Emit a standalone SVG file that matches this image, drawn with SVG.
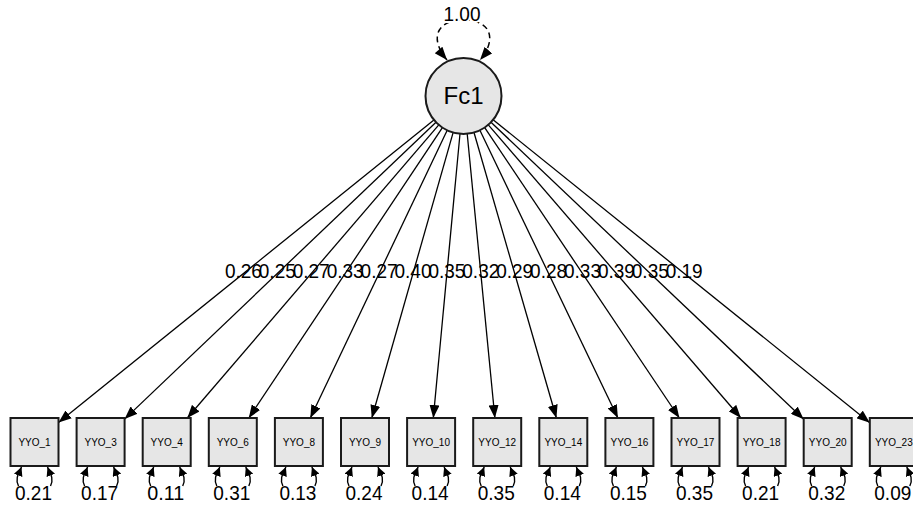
<svg xmlns="http://www.w3.org/2000/svg" width="913" height="507" viewBox="0 0 913 507">
<style>
text{font-family:"Liberation Sans",Arial,sans-serif;fill:#000}
.box{fill:#e6e6e6;stroke:#1a1a1a;stroke-width:2}
.blab{font-size:10px;text-anchor:middle}
.lab{font-size:21px;text-anchor:middle}
.edge{stroke:#000;stroke-width:1.3;fill:none;marker-end:url(#ah)}
.res{stroke:#000;stroke-width:1.4;fill:none;marker-end:url(#sh)}
.loop{stroke:#000;stroke-width:1.5;fill:none;stroke-dasharray:6 4;marker-end:url(#ah);marker-start:url(#ahs)}
</style>
<defs>
<marker id="ah" markerUnits="userSpaceOnUse" markerWidth="14" markerHeight="10" refX="13" refY="5" orient="auto"><path d="M0,0 L13,5 L0,10 Z" fill="#000"/></marker>
<marker id="ahs" markerUnits="userSpaceOnUse" markerWidth="14" markerHeight="10" refX="0" refY="5" orient="auto"><path d="M13,0 L0,5 L13,10 Z" fill="#000"/></marker>
<marker id="sh" markerUnits="userSpaceOnUse" markerWidth="10" markerHeight="9" refX="9" refY="4.5" orient="auto"><path d="M0,0 L9,4.5 L0,9 Z" fill="#000"/></marker>
</defs>
<rect width="913" height="507" fill="#fff"/>
<g id="connectors">
<path class="loop" d="M447 60 C 430 40, 435 20, 463.5 20 C 492 20, 497 40, 480 60"/>
<line class="edge" x1="433.9" y1="119.9" x2="58.5" y2="422.6"/>
<line class="edge" x1="436.0" y1="122.2" x2="124.6" y2="419.1"/>
<line class="edge" x1="438.8" y1="124.8" x2="187.3" y2="418"/>
<line class="edge" x1="442.4" y1="127.6" x2="248.8" y2="418"/>
<line class="edge" x1="447.2" y1="130.3" x2="310.3" y2="418"/>
<line class="edge" x1="453.1" y1="132.6" x2="371.8" y2="418"/>
<line class="edge" x1="460.0" y1="133.8" x2="433.3" y2="418"/>
<line class="edge" x1="467.2" y1="133.8" x2="494.9" y2="418"/>
<line class="edge" x1="474.0" y1="132.5" x2="556.4" y2="418"/>
<line class="edge" x1="479.9" y1="130.3" x2="617.9" y2="418"/>
<line class="edge" x1="484.7" y1="127.6" x2="679.4" y2="418"/>
<line class="edge" x1="488.3" y1="124.8" x2="740.9" y2="418"/>
<line class="edge" x1="491.0" y1="122.2" x2="803.7" y2="419.2"/>
<line class="edge" x1="493.1" y1="119.8" x2="869.8" y2="422.7"/>
</g>
<g id="Fc1">
<circle cx="463.5" cy="96" r="38" fill="#e6e6e6" stroke="#1a1a1a" stroke-width="2"/>
<text x="463.5" y="104" font-size="24" text-anchor="middle">Fc1</text>
<text x="462" y="21" class="lab" textLength="37" lengthAdjust="spacingAndGlyphs" style="stroke:#fff;stroke-width:4;paint-order:stroke">1.00</text>
</g>
<g id="loadings">
<text class="lab" x="243.4" y="278" textLength="37" lengthAdjust="spacingAndGlyphs">0.26</text>
<text class="lab" x="277.3" y="278" textLength="37" lengthAdjust="spacingAndGlyphs">0.25</text>
<text class="lab" x="311.2" y="278" textLength="37" lengthAdjust="spacingAndGlyphs">0.27</text>
<text class="lab" x="345.2" y="278" textLength="37" lengthAdjust="spacingAndGlyphs">0.33</text>
<text class="lab" x="379.1" y="278" textLength="37" lengthAdjust="spacingAndGlyphs">0.27</text>
<text class="lab" x="413.0" y="278" textLength="37" lengthAdjust="spacingAndGlyphs">0.40</text>
<text class="lab" x="446.9" y="278" textLength="37" lengthAdjust="spacingAndGlyphs">0.35</text>
<text class="lab" x="480.8" y="278" textLength="37" lengthAdjust="spacingAndGlyphs">0.32</text>
<text class="lab" x="514.7" y="278" textLength="37" lengthAdjust="spacingAndGlyphs">0.29</text>
<text class="lab" x="548.6" y="278" textLength="37" lengthAdjust="spacingAndGlyphs">0.28</text>
<text class="lab" x="582.5" y="278" textLength="37" lengthAdjust="spacingAndGlyphs">0.33</text>
<text class="lab" x="616.4" y="278" textLength="37" lengthAdjust="spacingAndGlyphs">0.39</text>
<text class="lab" x="650.3" y="278" textLength="37" lengthAdjust="spacingAndGlyphs">0.35</text>
<text class="lab" x="684.2" y="278" textLength="37" lengthAdjust="spacingAndGlyphs">0.19</text>
</g>
<g id="YYO_1" transform="translate(10.5,0)"><rect class="box" x="0" y="418" width="48" height="48"/><text class="blab" x="24" y="446">YYO_1</text><path class="res" d="M8 486 C4 478 9 472 11 467"/><path class="res" d="M40 486 C44 478 39 472 37 467"/><text class="lab" x="23" y="500" textLength="37" lengthAdjust="spacingAndGlyphs">0.21</text></g>
<g id="YYO_3" transform="translate(76.6,0)"><rect class="box" x="0" y="418" width="48" height="48"/><text class="blab" x="24" y="446">YYO_3</text><path class="res" d="M8 486 C4 478 9 472 11 467"/><path class="res" d="M40 486 C44 478 39 472 37 467"/><text class="lab" x="23" y="500" textLength="37" lengthAdjust="spacingAndGlyphs">0.17</text></g>
<g id="YYO_4" transform="translate(142.7,0)"><rect class="box" x="0" y="418" width="48" height="48"/><text class="blab" x="24" y="446">YYO_4</text><path class="res" d="M8 486 C4 478 9 472 11 467"/><path class="res" d="M40 486 C44 478 39 472 37 467"/><text class="lab" x="23" y="500" textLength="37" lengthAdjust="spacingAndGlyphs">0.11</text></g>
<g id="YYO_6" transform="translate(208.8,0)"><rect class="box" x="0" y="418" width="48" height="48"/><text class="blab" x="24" y="446">YYO_6</text><path class="res" d="M8 486 C4 478 9 472 11 467"/><path class="res" d="M40 486 C44 478 39 472 37 467"/><text class="lab" x="23" y="500" textLength="37" lengthAdjust="spacingAndGlyphs">0.31</text></g>
<g id="YYO_8" transform="translate(274.9,0)"><rect class="box" x="0" y="418" width="48" height="48"/><text class="blab" x="24" y="446">YYO_8</text><path class="res" d="M8 486 C4 478 9 472 11 467"/><path class="res" d="M40 486 C44 478 39 472 37 467"/><text class="lab" x="23" y="500" textLength="37" lengthAdjust="spacingAndGlyphs">0.13</text></g>
<g id="YYO_9" transform="translate(341,0)"><rect class="box" x="0" y="418" width="48" height="48"/><text class="blab" x="24" y="446">YYO_9</text><path class="res" d="M8 486 C4 478 9 472 11 467"/><path class="res" d="M40 486 C44 478 39 472 37 467"/><text class="lab" x="23" y="500" textLength="37" lengthAdjust="spacingAndGlyphs">0.24</text></g>
<g id="YYO_10" transform="translate(407.1,0)"><rect class="box" x="0" y="418" width="48" height="48"/><text class="blab" x="24" y="446">YYO_10</text><path class="res" d="M8 486 C4 478 9 472 11 467"/><path class="res" d="M40 486 C44 478 39 472 37 467"/><text class="lab" x="23" y="500" textLength="37" lengthAdjust="spacingAndGlyphs">0.14</text></g>
<g id="YYO_12" transform="translate(473.2,0)"><rect class="box" x="0" y="418" width="48" height="48"/><text class="blab" x="24" y="446">YYO_12</text><path class="res" d="M8 486 C4 478 9 472 11 467"/><path class="res" d="M40 486 C44 478 39 472 37 467"/><text class="lab" x="23" y="500" textLength="37" lengthAdjust="spacingAndGlyphs">0.35</text></g>
<g id="YYO_14" transform="translate(539.3,0)"><rect class="box" x="0" y="418" width="48" height="48"/><text class="blab" x="24" y="446">YYO_14</text><path class="res" d="M8 486 C4 478 9 472 11 467"/><path class="res" d="M40 486 C44 478 39 472 37 467"/><text class="lab" x="23" y="500" textLength="37" lengthAdjust="spacingAndGlyphs">0.14</text></g>
<g id="YYO_16" transform="translate(605.4,0)"><rect class="box" x="0" y="418" width="48" height="48"/><text class="blab" x="24" y="446">YYO_16</text><path class="res" d="M8 486 C4 478 9 472 11 467"/><path class="res" d="M40 486 C44 478 39 472 37 467"/><text class="lab" x="23" y="500" textLength="37" lengthAdjust="spacingAndGlyphs">0.15</text></g>
<g id="YYO_17" transform="translate(671.5,0)"><rect class="box" x="0" y="418" width="48" height="48"/><text class="blab" x="24" y="446">YYO_17</text><path class="res" d="M8 486 C4 478 9 472 11 467"/><path class="res" d="M40 486 C44 478 39 472 37 467"/><text class="lab" x="23" y="500" textLength="37" lengthAdjust="spacingAndGlyphs">0.35</text></g>
<g id="YYO_18" transform="translate(737.6,0)"><rect class="box" x="0" y="418" width="48" height="48"/><text class="blab" x="24" y="446">YYO_18</text><path class="res" d="M8 486 C4 478 9 472 11 467"/><path class="res" d="M40 486 C44 478 39 472 37 467"/><text class="lab" x="23" y="500" textLength="37" lengthAdjust="spacingAndGlyphs">0.21</text></g>
<g id="YYO_20" transform="translate(803.7,0)"><rect class="box" x="0" y="418" width="48" height="48"/><text class="blab" x="24" y="446">YYO_20</text><path class="res" d="M8 486 C4 478 9 472 11 467"/><path class="res" d="M40 486 C44 478 39 472 37 467"/><text class="lab" x="23" y="500" textLength="37" lengthAdjust="spacingAndGlyphs">0.32</text></g>
<g id="YYO_23" transform="translate(869.8,0)"><rect class="box" x="0" y="418" width="48" height="48"/><text class="blab" x="24" y="446">YYO_23</text><path class="res" d="M8 486 C4 478 9 472 11 467"/><path class="res" d="M40 486 C44 478 39 472 37 467"/><text class="lab" x="23" y="500" textLength="37" lengthAdjust="spacingAndGlyphs">0.09</text></g>
</svg>
